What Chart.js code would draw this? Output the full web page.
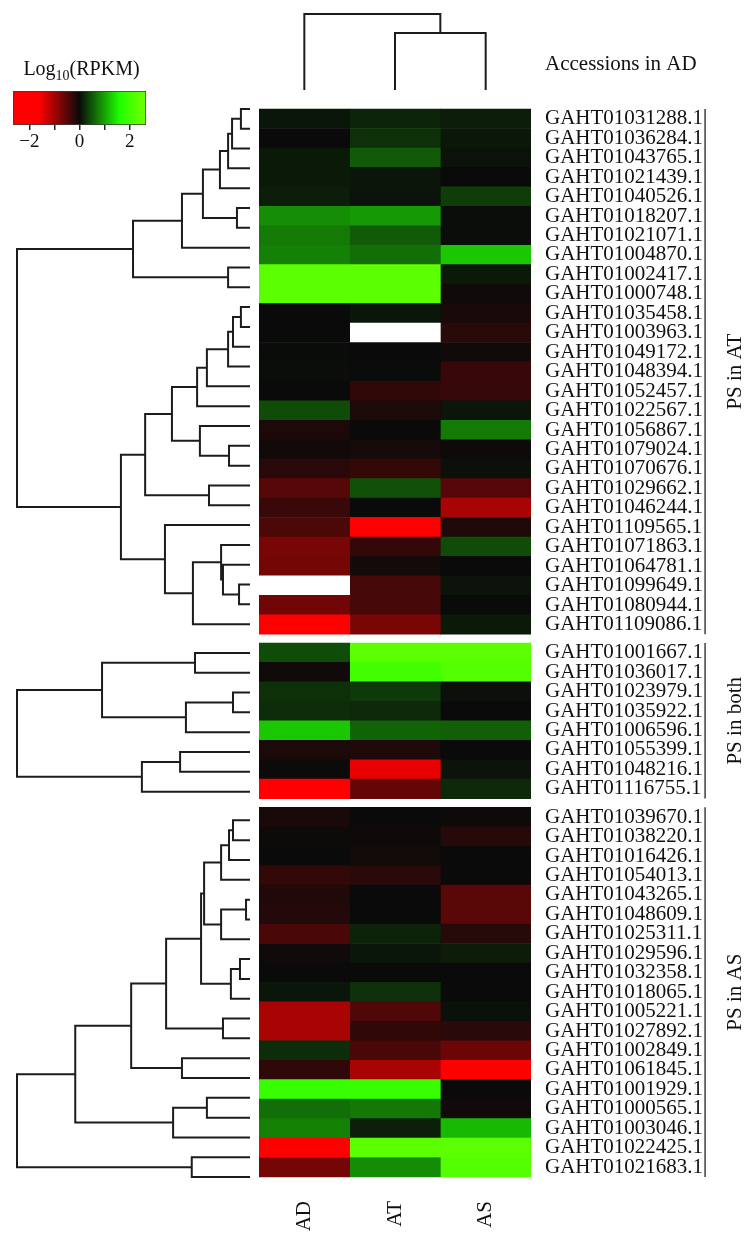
<!DOCTYPE html>
<html>
<head>
<meta charset="utf-8">
<script src="https://cdn.jsdelivr.net/npm/chart.js@4.4.1/dist/chart.umd.min.js"></script>
<style>
  html, body { margin: 0; padding: 0; background: #fff; }
  #wrap { position: relative; width: 753px; height: 1247px; }
  #wrap canvas { position: absolute; left: 0; top: 0; }
</style>
</head>
<body>
<div id="wrap">
  <canvas id="heat" width="753" height="1247"></canvas>
  <canvas id="rowTree" width="753" height="1247"></canvas>
  <canvas id="colTree" width="753" height="1247"></canvas>
  <canvas id="scaleBar" width="753" height="1247"></canvas>
</div>
<script>
// columns of the heatmap
const COLUMNS = ["AD", "AT", "AS"];

// row groups, top to bottom
const GROUP_LABELS = ["PS in AT", "PS in both", "PS in AS"];
const GROUP_SIZES = [27, 8, 19];

const ACCESSIONS = [
  "GAHT01031288.1", "GAHT01036284.1", "GAHT01043765.1", "GAHT01021439.1", "GAHT01040526.1",
  "GAHT01018207.1", "GAHT01021071.1", "GAHT01004870.1", "GAHT01002417.1", "GAHT01000748.1",
  "GAHT01035458.1", "GAHT01003963.1", "GAHT01049172.1", "GAHT01048394.1", "GAHT01052457.1",
  "GAHT01022567.1", "GAHT01056867.1", "GAHT01079024.1", "GAHT01070676.1", "GAHT01029662.1",
  "GAHT01046244.1", "GAHT01109565.1", "GAHT01071863.1", "GAHT01064781.1", "GAHT01099649.1",
  "GAHT01080944.1", "GAHT01109086.1",
  "GAHT01001667.1", "GAHT01036017.1", "GAHT01023979.1", "GAHT01035922.1", "GAHT01006596.1",
  "GAHT01055399.1", "GAHT01048216.1", "GAHT01116755.1",
  "GAHT01039670.1", "GAHT01038220.1", "GAHT01016426.1", "GAHT01054013.1", "GAHT01043265.1",
  "GAHT01048609.1", "GAHT01025311.1", "GAHT01029596.1", "GAHT01032358.1", "GAHT01018065.1",
  "GAHT01005221.1", "GAHT01027892.1", "GAHT01002849.1", "GAHT01061845.1", "GAHT01001929.1",
  "GAHT01000565.1", "GAHT01003046.1", "GAHT01022425.1", "GAHT01021683.1"
];

// log10(RPKM) per column, null = missing (white)
const AD = [
  0.08, 0.0, 0.1, 0.1, 0.13, 0.86, 0.73, 0.77, 2.3, 2.3,
  0.0, 0.0, 0.01, 0.02, 0.0, 0.43, -0.13, -0.05, -0.2, -0.5,
  -0.31, -0.43, -0.72, -0.7, null, -0.68, -1.8,
  0.43, -0.04, 0.25, 0.22, 1.24, -0.12, -0.02, -1.8,
  -0.1, -0.03, 0.0, -0.27, -0.14, -0.16, -0.42, -0.04, 0.0, 0.08,
  -1.04, -1.03, 0.22, -0.24, 1.9, 0.65, 0.78, -1.8, -0.7
];
const AT = [
  0.17, 0.25, 0.52, 0.07, 0.06, 0.94, 0.52, 0.65, 2.3, 2.3,
  0.08, null, 0.0, 0.01, -0.25, -0.12, 0.0, -0.08, -0.28, 0.46,
  0.0, -1.8, -0.26, -0.07, -0.39, -0.39, -0.73,
  2.3, 2.0, 0.31, 0.2, 0.59, -0.14, -1.45, -0.59,
  0.0, -0.03, -0.06, -0.2, 0.0, 0.0, 0.16, 0.08, 0.0, 0.24,
  -0.46, -0.25, -0.42, -1.04, 1.9, 0.72, 0.14, 2.3, 0.85
];
const AS = [
  0.13, 0.09, 0.05, 0.0, 0.33, 0.02, 0.02, 1.24, 0.1, -0.04,
  -0.1, -0.2, -0.05, -0.3, -0.29, 0.07, 0.73, -0.03, 0.04, -0.5,
  -1.03, -0.13, 0.43, 0.0, 0.06, 0.0, 0.1,
  2.3, 2.2, 0.04, 0.0, 0.56, 0.0, 0.06, 0.2,
  -0.03, -0.18, 0.0, 0.0, -0.52, -0.52, -0.18, 0.12, 0.0, 0.0,
  0.04, -0.2, -0.64, -1.8, 0.0, -0.05, 1.14, 2.3, 2.2
];
const VALUES = [AD, AT, AS];

// row clustering per group: [childA, childB, height]; ids < n are rows, n + k is merge k
const ROW_TREE_AT = [
  [0, 1, 0.39], [27, 2, 0.77], [28, 3, 0.94], [29, 4, 1.29], [5, 6, 0.56],
  [30, 31, 2.02], [32, 7, 2.92], [8, 9, 0.94], [33, 34, 5.02],
  [10, 11, 0.39], [36, 12, 0.73], [37, 13, 0.94], [38, 14, 1.85], [39, 15, 2.27],
  [17, 18, 0.9], [16, 41, 2.15], [40, 42, 3.35], [19, 20, 1.76], [43, 44, 4.5],
  [24, 25, 0.47], [23, 46, 1.16], [22, 47, 1.24], [48, 26, 2.45], [21, 49, 3.65],
  [45, 50, 5.54], [35, 51, 10.0]
];
const ROW_TREE_BOTH = [
  [0, 1, 2.36], [2, 3, 0.73], [9, 4, 2.75], [8, 10, 6.35],
  [5, 6, 3.0], [12, 7, 4.64], [11, 13, 10.0]
];
const ROW_TREE_AS = [
  [0, 1, 0.73], [19, 2, 0.9], [20, 3, 1.24], [4, 5, 0.17], [22, 6, 1.24],
  [21, 23, 1.97], [7, 8, 0.43], [25, 9, 0.82], [24, 26, 2.1], [10, 11, 1.16],
  [27, 28, 3.6], [12, 13, 2.92], [29, 30, 5.1], [14, 15, 1.85], [32, 16, 3.3],
  [31, 33, 7.5], [17, 18, 2.5], [34, 35, 10.0]
];
const ROW_TREES = [ROW_TREE_AT, ROW_TREE_BOTH, ROW_TREE_AS];

// column clustering
const COL_TREE = [[1, 2, 0.75], [0, 3, 1.0]];

// colour key
const SCALE_MIN = -2.65;
const SCALE_MAX = 2.65;
const SCALE_TICKS = [-2, -1, 0, 1, 2];
const SCALE_LABELS = ["\u22122", "", "0", "", "2"];

const FONT = '"Liberation Serif", "Times New Roman", serif';
const LABEL_SIZE = 21;
Chart.defaults.font.family = FONT;
Chart.defaults.font.size = LABEL_SIZE;
Chart.defaults.color = "#111";

// row positions on the y scale, with a small gap between groups
const GAP = 0.45;
const ROW_POS = [];
let pos = 0;
GROUP_SIZES.forEach(n => {
  for (let i = 0; i < n; i++) ROW_POS.push(pos + i);
  pos += n + GAP;
});
const Y_MIN = -0.5;
const Y_MAX = ROW_POS[ROW_POS.length - 1] + 0.5;

function cellColour(v) {
  if (v === null) return "#ffffff";
  let r, g, b;
  if (v < 0) {
    const t = Math.min(1, -v / 1.6);
    r = 10 + 245 * t; g = 10 - 10 * t; b = 10 - 10 * t;
  } else {
    const t = Math.min(1, v / 1.6);
    const e = Math.max(0, Math.min(1, (v - 1.6) / 0.8));
    r = 10 + 20 * t + 70 * e; g = 10 + 245 * t; b = 10 - 10 * t;
  }
  return `rgb(${Math.round(r)},${Math.round(g)},${Math.round(b)})`;
}

// turn a merge list into line points (null points break the line)
function treePoints(merges, leafPos, horizontal) {
  const nodes = leafPos.map(p => ({ h: 0, p }));
  const pts = [];
  const pt = (h, p) => horizontal ? { x: h, y: p } : { x: p, y: h };
  merges.forEach(([a, b, h]) => {
    const A = nodes[a], B = nodes[b];
    pts.push(pt(A.h, A.p), pt(h, A.p), pt(h, B.p), pt(B.h, B.p), { x: null, y: null });
    nodes.push({ h, p: (A.p + B.p) / 2 });
  });
  return pts;
}

const noPlugins = { legend: { display: false }, tooltip: { enabled: false } };

// brackets, group names and header beside the row labels
const groupBrackets = {
  id: "groupBrackets",
  afterDraw(chart) {
    const { ctx } = chart;
    const y = chart.scales.y;
    ctx.save();
    ctx.font = `${LABEL_SIZE}px ${FONT}`;
    const maxW = Math.max(...ACCESSIONS.map(a => ctx.measureText(a).width));
    const labelX = y.left + 14;
    const lineX = labelX + maxW + 2;
    ctx.fillStyle = "#111";
    ctx.textAlign = "left";
    ctx.textBaseline = "middle";
    ctx.fillText("Accessions in AD", labelX, 64);
    let start = 0;
    GROUP_SIZES.forEach((n, g) => {
      const top = y.getPixelForValue(ROW_POS[start] - 0.5);
      const bottom = y.getPixelForValue(ROW_POS[start + n - 1] + 0.5);
      start += n;
      ctx.strokeStyle = "#222";
      ctx.lineWidth = 1.3;
      ctx.beginPath();
      ctx.moveTo(lineX, top);
      ctx.lineTo(lineX, bottom);
      ctx.stroke();
      ctx.save();
      ctx.translate(lineX + 30, (top + bottom) / 2);
      ctx.rotate(-Math.PI / 2);
      ctx.textAlign = "center";
      ctx.fillText(GROUP_LABELS[g], 0, 0);
      ctx.restore();
    });
    ctx.restore();
  }
};

new Chart(document.getElementById("heat"), {
  type: "bar",
  data: {
    datasets: COLUMNS.map((name, c) => ({
      label: name,
      data: ROW_POS.map(y => ({ x: 1, y })),
      backgroundColor: VALUES[c].map(cellColour),
      borderWidth: 0,
      barPercentage: 1,
      categoryPercentage: 1
    }))
  },
  options: {
    indexAxis: "y",
    responsive: false,
    animation: false,
    layout: { padding: { left: 259, top: 99, right: 0, bottom: 0 } },
    plugins: noPlugins,
    scales: {
      x: {
        type: "linear", stacked: true, min: 0, max: 3, position: "bottom",
        grid: { display: false, drawTicks: false }, border: { display: false },
        afterBuildTicks: s => { s.ticks = COLUMNS.map((_, i) => ({ value: i + 0.5 })); },
        afterFit: s => { s.height = 60; },
        ticks: { callback: (v, i) => COLUMNS[i], minRotation: 90, maxRotation: 90, padding: 14, autoSkip: false }
      },
      y: {
        type: "linear", stacked: true, position: "right", reverse: true, min: Y_MIN, max: Y_MAX,
        grid: { display: false, drawTicks: false }, border: { display: false },
        afterBuildTicks: s => { s.ticks = ROW_POS.map(v => ({ value: v })); },
        afterFit: s => { s.width = 222; },
        ticks: { callback: (v, i) => ACCESSIONS[i], autoSkip: false, padding: 14 }
      }
    }
  },
  plugins: [groupBrackets]
});

// row dendrograms
let first = 0;
const rowTreeSets = ROW_TREES.map((tree, g) => {
  const leaves = ROW_POS.slice(first, first + GROUP_SIZES[g]);
  first += GROUP_SIZES[g];
  return {
    data: treePoints(tree, leaves, true),
    showLine: true, clip: false
  };
});

const treeElements = {
  point: { radius: 0, hoverRadius: 0 },
  line: { borderWidth: 2, borderColor: "#1c1c1c", tension: 0, borderJoinStyle: "miter", fill: false }
};

new Chart(document.getElementById("rowTree"), {
  type: "scatter",
  data: { datasets: rowTreeSets },
  options: {
    responsive: false,
    animation: false,
    layout: { padding: { left: 17, right: 503, top: 99, bottom: 60 } },
    plugins: noPlugins,
    elements: treeElements,
    scales: {
      x: { type: "linear", display: false, reverse: true, min: 0, max: 10 },
      y: { type: "linear", display: false, reverse: true, min: Y_MIN, max: Y_MAX }
    }
  }
});

// column dendrogram
new Chart(document.getElementById("colTree"), {
  type: "scatter",
  data: {
    datasets: [{
      data: treePoints(COL_TREE, COLUMNS.map((_, i) => i + 0.5), false),
      showLine: true, clip: false
    }]
  },
  options: {
    responsive: false,
    animation: false,
    layout: { padding: { left: 259, right: 222, top: 14, bottom: 1157 } },
    plugins: noPlugins,
    elements: treeElements,
    scales: {
      x: { type: "linear", display: false, min: 0, max: 3 },
      y: { type: "linear", display: false, min: 0, max: 1 }
    }
  }
});

// colour key
const scaleTitle = {
  id: "scaleTitle",
  afterDraw(chart) {
    const { ctx, chartArea } = chart;
    ctx.save();
    ctx.fillStyle = "#111";
    ctx.textBaseline = "alphabetic";
    ctx.textAlign = "left";
    const big = `20px ${FONT}`, small = `14px ${FONT}`;
    ctx.font = big;
    const w1 = ctx.measureText("Log").width;
    const w3 = ctx.measureText("(RPKM)").width;
    ctx.font = small;
    const w2 = ctx.measureText("10").width;
    let x = (chartArea.left + chartArea.right) / 2 - (w1 + w2 + w3) / 2 + 2;
    const base = chartArea.top - 16;
    ctx.font = big; ctx.fillText("Log", x, base); x += w1;
    ctx.font = small; ctx.fillText("10", x, base + 5); x += w2;
    ctx.font = big; ctx.fillText("(RPKM)", x, base);
    ctx.restore();
  }
};

new Chart(document.getElementById("scaleBar"), {
  type: "bar",
  data: {
    labels: [""],
    datasets: [{
      data: [[SCALE_MIN, SCALE_MAX]],
      backgroundColor(c) {
        const chart = c.chart;
        const x = chart.scales.x;
        if (!x || !chart.chartArea) return "#000";
        const grad = chart.ctx.createLinearGradient(x.getPixelForValue(SCALE_MIN), 0, x.getPixelForValue(SCALE_MAX), 0);
        for (let i = 0; i <= 40; i++) {
          grad.addColorStop(i / 40, cellColour(SCALE_MIN + (SCALE_MAX - SCALE_MIN) * i / 40));
        }
        return grad;
      },
      borderColor: "#3a3a3a",
      borderWidth: 1,
      borderSkipped: false,
      barPercentage: 1,
      categoryPercentage: 1
    }]
  },
  options: {
    indexAxis: "y",
    responsive: false,
    animation: false,
    layout: { padding: { left: 13, right: 607, top: 91, bottom: 1092 } },
    plugins: noPlugins,
    scales: {
      x: {
        type: "linear", min: SCALE_MIN, max: SCALE_MAX,
        afterBuildTicks: s => { s.ticks = SCALE_TICKS.map(v => ({ value: v })); },
        afterFit: s => { s.height = 30; },
        grid: { drawOnChartArea: false, drawTicks: true, tickLength: 5, color: "#222", lineWidth: 1.5 },
        border: { display: false },
        ticks: { callback: (v, i) => SCALE_LABELS[i], padding: 1, autoSkip: false, maxRotation: 0, font: { size: 19 } }
      },
      y: { display: false }
    }
  },
  plugins: [scaleTitle]
});
</script>
</body>
</html>
